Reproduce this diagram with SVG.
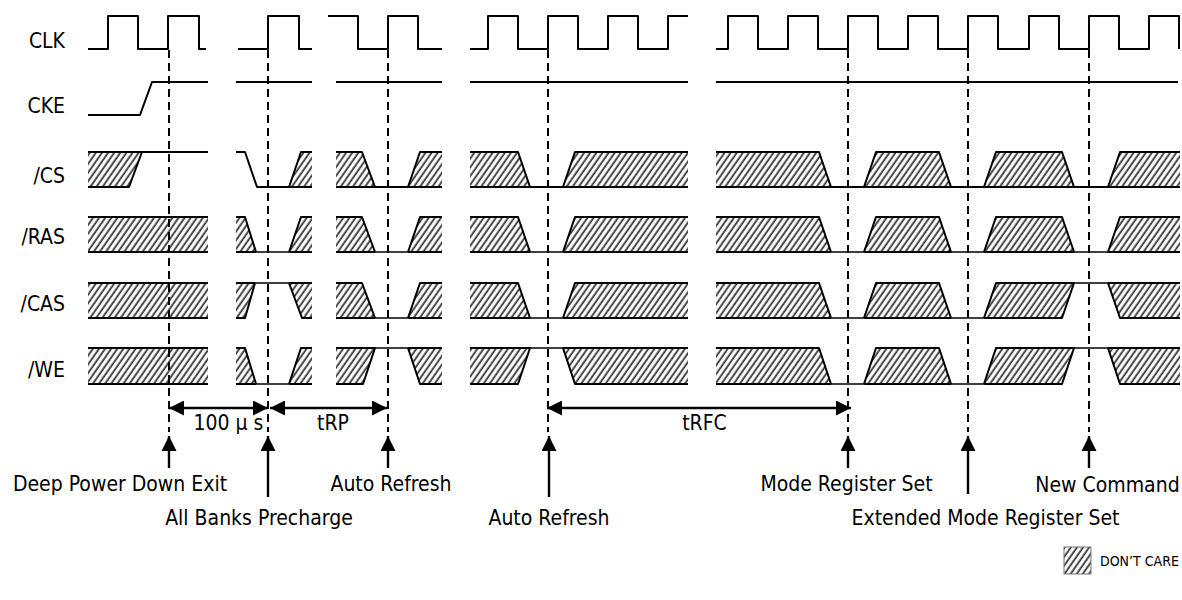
<svg xmlns="http://www.w3.org/2000/svg" width="1182" height="600" viewBox="0 0 1182 600">
<style>
text{font-family:"DejaVu Sans Condensed","DejaVu Sans",sans-serif;font-stretch:condensed;font-size:21px;fill:#000}
.lbl{text-anchor:end}
.c{text-anchor:middle}
.w{fill:none;stroke:#000;stroke-width:2;stroke-linejoin:round}
.n{fill:none;stroke:#000;stroke-width:1.4}
.h{fill:url(#hatch);stroke:none}
.d{fill:none;stroke:#000;stroke-width:2;stroke-dasharray:8 5}
.a{fill:none;stroke:#000;stroke-width:2.4}
</style>
<defs>
<pattern id="hatch" patternUnits="userSpaceOnUse" width="5" height="5" patternTransform="rotate(35)">
<rect width="5" height="5" fill="#fff"/>
<line x1="1.2" y1="-1" x2="1.2" y2="6" stroke="#333" stroke-width="1.8"/>
</pattern>
<marker id="ah" viewBox="0 0 15 15" refX="15" refY="7.5" markerWidth="15" markerHeight="15" markerUnits="userSpaceOnUse" orient="auto-start-reverse">
<path d="M0,0 L15,7.5 L0,15 z" fill="#000"/>
</marker>
</defs>
<rect width="1182" height="600" fill="#fff"/>

<g id="clk">
<text class="lbl" x="65" y="48">CLK</text>
<path class="w" d="M88,49 H108 V16 H138 V49 H168 V16 H199 V49 H206"/>
<path class="w" d="M238,49 H268 V16 H299 V49 H312"/>
<path class="w" d="M328,16 H358 V49 H388 V16 H418 V49 H442"/>
<path class="w" d="M470,49 H488 V16 H518 V49 H548 V16 H578 V49 H608 V16 H638 V49 H668 V16 H688"/>
<path class="w" d="M716,49 H728 V16 H758 V49 H788 V16 H818 V49 H848 V16 H878 V49 H908 V16 H938 V49 H968 V16 H998 V49 H1029 V16 H1059 V49 H1089 V16 H1119 V49 H1149 V16 H1179 V49"/>
</g>

<g id="cke">
<text class="lbl" x="65" y="113">CKE</text>
<path class="w" d="M88,115 H140 L152,82 H208"/>
<path class="w" d="M236,82 H312"/>
<path class="w" d="M336,82 H442"/>
<path class="w" d="M470,82 H688"/>
<path class="w" d="M716,82 H1178"/>
</g>

<g id="cs">
<text class="lbl" x="65" y="183">/CS</text>
<polygon class="h" points="88,152 142,152 129,187 88,187"/>
<path class="w" d="M88,152 H208 M88,187 H129 L142,152"/>
<polygon class="h" points="289,187 301,152 312,152 312,187"/>
<path class="w" d="M236,152 H245 L257,187 H312 M289,187 L301,152 H312"/>
<polygon class="h" points="336,152 362,152 375,187 336,187"/>
<polygon class="h" points="408,187 420,152 442,152 442,187"/>
<path class="w" d="M336,152 H362 L375,187 M408,187 L420,152 H442 M336,187 H442"/>
<polygon class="h" points="470,152 518,152 530,187 470,187"/>
<polygon class="h" points="563,187 575,152 688,152 688,187"/>
<path class="w" d="M470,152 H518 L530,187 M563,187 L575,152 H688 M470,187 H688"/>
<polygon class="h" points="716,152 819,152 831,187 716,187"/>
<polygon class="h" points="864,187 876,152 939,152 951,187"/>
<polygon class="h" points="984,187 996,152 1062,152 1074,187"/>
<polygon class="h" points="1108,187 1120,152 1180,152 1180,187"/>
<path class="w" d="M716,152 H819 L831,187 M864,187 L876,152 H939 L951,187 M984,187 L996,152 H1062 L1074,187 M1108,187 L1120,152 H1180 M716,187 H1180"/>
</g>

<g id="ras">
<text class="lbl" x="65" y="244">/RAS</text>
<rect class="h" x="88" y="217" width="120" height="35"/>
<path class="w" d="M88,217 H208 M88,252 H208"/>
<polygon class="h" points="236,217 245,217 256,252 236,252"/>
<polygon class="h" points="289,252 301,217 312,217 312,252"/>
<path class="w" d="M236,217 H245 L256,252 M289,252 L301,217 H312 M236,252 H256 M289,252 H312"/>
<path class="n" d="M256,252 H289"/>
<polygon class="h" points="336,217 362,217 375,252 336,252"/>
<polygon class="h" points="408,252 420,217 442,217 442,252"/>
<path class="w" d="M336,217 H362 L375,252 M408,252 L420,217 H442 M336,252 H375 M408,252 H442"/>
<path class="n" d="M375,252 H408"/>
<polygon class="h" points="470,217 518,217 530,252 470,252"/>
<polygon class="h" points="563,252 575,217 688,217 688,252"/>
<path class="w" d="M470,217 H518 L530,252 M563,252 L575,217 H688 M470,252 H530 M563,252 H688"/>
<path class="n" d="M530,252 H563"/>
<polygon class="h" points="716,217 819,217 831,252 716,252"/>
<polygon class="h" points="864,252 876,217 939,217 951,252"/>
<polygon class="h" points="984,252 996,217 1062,217 1074,252"/>
<polygon class="h" points="1108,252 1120,217 1180,217 1180,252"/>
<path class="w" d="M716,217 H819 L831,252 M864,252 L876,217 H939 L951,252 M984,252 L996,217 H1062 L1074,252 M1108,252 L1120,217 H1180 M716,252 H831 M864,252 H951 M984,252 H1074 M1108,252 H1180"/>
<path class="n" d="M831,252 H864 M951,252 H984 M1074,252 H1108"/>
</g>

<g id="cas">
<text class="lbl" x="65" y="311">/CAS</text>
<rect class="h" x="88" y="283" width="120" height="35"/>
<path class="w" d="M88,283 H208 M88,318 H208"/>
<polygon class="h" points="236,283 255,283 245,318 236,318"/>
<polygon class="h" points="289,283 312,283 312,318 302,318"/>
<path class="w" d="M236,283 H255 M236,318 H245 L255,283 M289,283 H312 M289,283 L302,318 H312"/>
<path class="n" d="M255,283 H289"/>
<polygon class="h" points="336,283 362,283 375,318 336,318"/>
<polygon class="h" points="408,318 420,283 442,283 442,318"/>
<path class="w" d="M336,283 H362 L375,318 M408,318 L420,283 H442 M336,318 H375 M408,318 H442"/>
<path class="n" d="M375,318 H408"/>
<polygon class="h" points="470,283 518,283 530,318 470,318"/>
<polygon class="h" points="563,318 575,283 688,283 688,318"/>
<path class="w" d="M470,283 H518 L530,318 M563,318 L575,283 H688 M470,318 H530 M563,318 H688"/>
<path class="n" d="M530,318 H563"/>
<polygon class="h" points="716,283 819,283 831,318 716,318"/>
<polygon class="h" points="864,318 876,283 939,283 951,318"/>
<polygon class="h" points="984,318 996,283 1074,283 1062,318"/>
<polygon class="h" points="1108,283 1180,283 1180,318 1120,318"/>
<path class="w" d="M716,283 H819 L831,318 M864,318 L876,283 H939 L951,318 M984,318 L996,283 H1074 L1062,318 H984 M1108,283 H1180 M1108,283 L1120,318 H1180 M716,318 H831 M864,318 H951"/>
<path class="n" d="M831,318 H864 M951,318 H984 M1074,283 H1108"/>
</g>

<g id="we">
<text class="lbl" x="65" y="377">/WE</text>
<rect class="h" x="88" y="348" width="120" height="36"/>
<path class="w" d="M88,348 H208 M88,384 H208"/>
<polygon class="h" points="236,348 245,348 256,384 236,384"/>
<polygon class="h" points="289,384 301,348 312,348 312,384"/>
<path class="w" d="M236,348 H245 L256,384 M289,384 L301,348 H312 M236,384 H256 M289,384 H312"/>
<path class="n" d="M256,384 H289"/>
<polygon class="h" points="336,348 375,348 363,384 336,384"/>
<polygon class="h" points="408,348 442,348 442,384 420,384"/>
<path class="w" d="M336,348 H375 L363,384 H336 M408,348 H442 M408,348 L420,384 H442"/>
<path class="n" d="M375,348 H408"/>
<polygon class="h" points="470,348 530,348 518,384 470,384"/>
<polygon class="h" points="563,348 688,348 688,384 575,384"/>
<path class="w" d="M470,348 H530 L518,384 H470 M563,348 H688 M563,348 L575,384 H688"/>
<path class="n" d="M530,348 H563"/>
<polygon class="h" points="716,348 819,348 831,384 716,384"/>
<polygon class="h" points="864,384 876,348 939,348 951,384"/>
<polygon class="h" points="984,384 996,348 1074,348 1062,384"/>
<polygon class="h" points="1108,348 1180,348 1180,384 1120,384"/>
<path class="w" d="M716,348 H819 L831,384 M864,384 L876,348 H939 L951,384 M984,384 L996,348 H1074 L1062,384 H984 M1108,348 H1180 M1108,348 L1120,384 H1180 M716,384 H831 M864,384 H951"/>
<path class="n" d="M831,384 H864 M951,384 H984 M1074,348 H1108"/>
</g>

<g id="connectors">
<path class="d" d="M169,50 V432 M268,50 V432 M388,50 V432 M548,50 V432 M848,50 V432 M968,50 V432 M1089,50 V432"/>
<path class="a" d="M169,408 H268" marker-start="url(#ah)" marker-end="url(#ah)"/>
<path class="a" d="M270,408 H387" marker-start="url(#ah)" marker-end="url(#ah)"/>
<path class="a" d="M547,408 H851" marker-start="url(#ah)" marker-end="url(#ah)"/>
<path class="a" d="M169,468 V436" marker-end="url(#ah)"/>
<path class="a" d="M268,497 V436" marker-end="url(#ah)"/>
<path class="a" d="M388,468 V436" marker-end="url(#ah)"/>
<path class="a" d="M549,497 V436" marker-end="url(#ah)"/>
<path class="a" d="M848,468 V436" marker-end="url(#ah)"/>
<path class="a" d="M968,494 V436" marker-end="url(#ah)"/>
<path class="a" d="M1089,468 V436" marker-end="url(#ah)"/>
</g>

<g id="labels">
<text class="c" x="228.5" y="430">100 μ s</text>
<text class="c" x="333" y="430">tRP</text>
<text class="c" x="704.5" y="430">tRFC</text>
<text class="c" x="120" y="491">Deep Power Down Exit</text>
<text class="c" x="259" y="525">All Banks Precharge</text>
<text class="c" x="391" y="491">Auto Refresh</text>
<text class="c" x="549" y="525">Auto Refresh</text>
<text class="c" x="846.5" y="491">Mode Register Set</text>
<text class="c" x="1107.5" y="492">New Command</text>
<text class="c" x="985.5" y="525">Extended Mode Register Set</text>
</g>

<g id="legend">
<rect x="1064" y="547" width="27" height="27" fill="url(#hatch)" stroke="#777" stroke-width="1"/>
<text x="1100" y="566" style="font-size:14px">DON’T CARE</text>
</g>
</svg>
